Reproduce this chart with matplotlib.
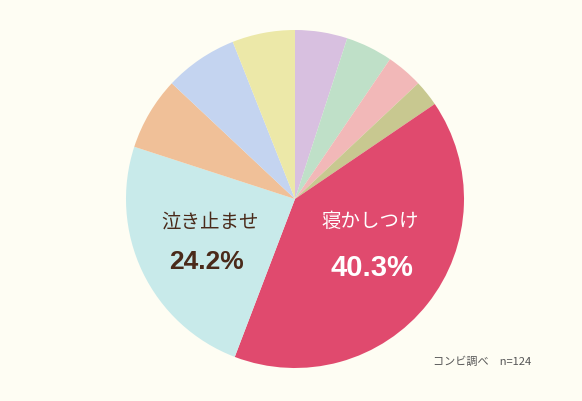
import matplotlib
matplotlib.use("Agg")
import matplotlib.pyplot as plt

labels = ["a", "b", "c", "d", "寝かしつけ", "泣き止ませ", "e", "f", "g"]
values = [5.0, 4.5, 3.5, 2.5, 40.3, 24.2, 7.0, 7.0, 6.0]
colors = ["#d8c0e0", "#bfe0c8", "#f2b8b8", "#c8c890", "#e04a6e", "#c8eaea",
          "#f0c098", "#c4d4f0", "#ece8a8"]

plt.rcParams['font.family'] = ['Noto Sans CJK JP', 'DejaVu Sans']
W, H = 582, 402
fig = plt.figure(figsize=(W/100, H/100), dpi=100, facecolor="#fefdf3")
cx, cy, r = 295, 200, 169
ax = fig.add_axes([(cx-r)/W, 1-(cy+r)/H, 2*r/W, 2*r/H])
ax.pie(values, colors=colors, startangle=90, counterclock=False,
       wedgeprops=dict(linewidth=0))
ax.set_aspect('auto')
ax.set_xlim(-1, 1)
ax.set_ylim(-1, 1)

def t(x, y, s, **kw):
    fig.text(x/W, 1-y/H, s, ha="center", va="center", **kw)

t(210, 222, "泣き止ませ", fontsize=14, color="#4a2a1a")
t(207, 262, "24.2%", fontsize=19, color="#4a2a1a", fontweight="bold", family="Liberation Sans")
t(370, 222, "寝かしつけ", fontsize=14, color="white")
t(372, 268, "40.3%", fontsize=21, color="white", fontweight="bold", family="Liberation Sans")
t(482, 362, "コンビ調べ　n=124", fontsize=8, color="#555555")

fig.savefig("out.png", dpi=100, facecolor=fig.get_facecolor())
